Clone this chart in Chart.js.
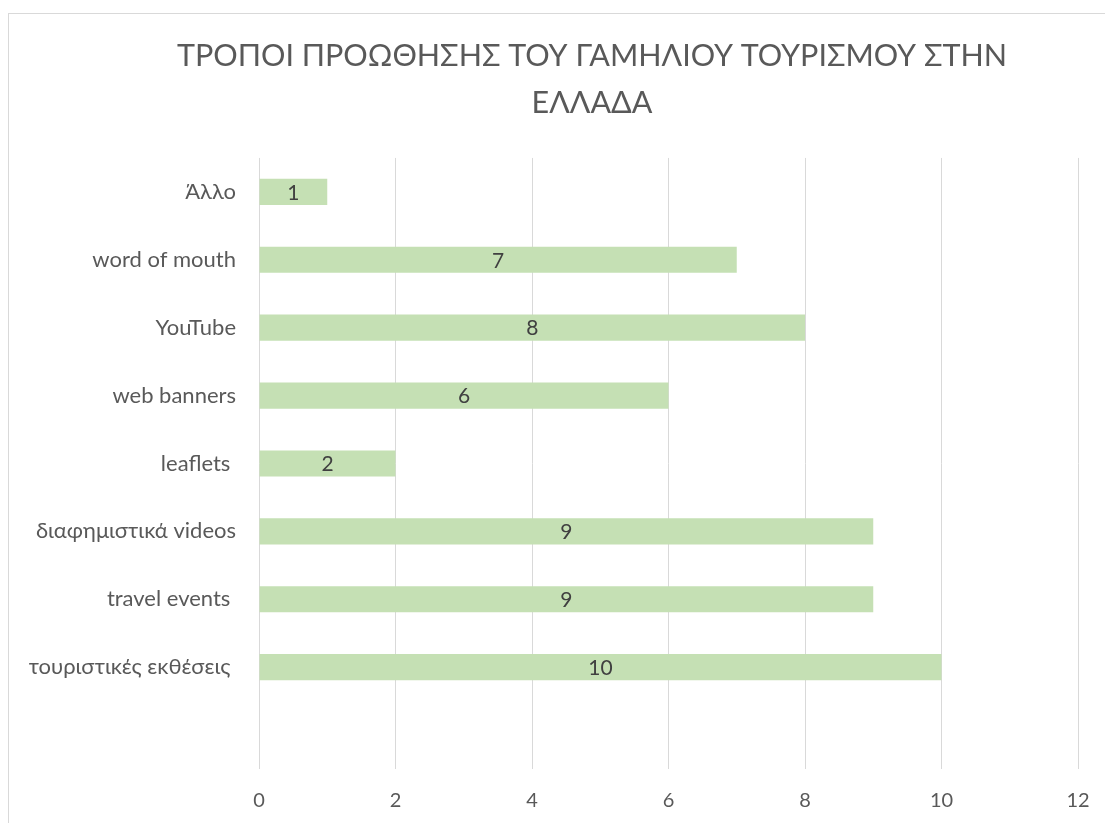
<!DOCTYPE html>
<html>
<head>
<meta charset="utf-8">
<title>Τρόποι προώθησης του γαμήλιου τουρισμού</title>
<script src="https://cdn.jsdelivr.net/npm/chart.js@4.4.1/dist/chart.umd.min.js"></script>
<style>
  html, body { margin: 0; padding: 0; background: #fff; overflow: hidden; }
  #frame {
    position: absolute;
    left: 8px;
    top: 13px;
    width: 1166px;
    height: 830px;
    border: 1px solid #d9d9d9;
    overflow: hidden;
  }
  #chart { display: block; }
</style>
</head>
<body>
<div id="frame">
  <canvas id="chart" width="1166" height="830"></canvas>
</div>
<script>
// chart data (top to bottom, last row is empty in the original sheet)
const categories = [
  "Άλλο",
  "word of mouth",
  "YouTube",
  "web banners",
  "leaflets ",
  "διαφημιστικά videos",
  "travel events ",
  "τουριστικές εκθέσεις ",
  ""
];
const counts = [1, 7, 8, 6, 2, 9, 9, 10, null];
const titleLines = ["ΤΡΟΠΟΙ ΠΡΟΩΘΗΣΗΣ ΤΟΥ ΓΑΜΗΛΙΟΥ ΤΟΥΡΙΣΜΟΥ ΣΤΗΝ", "ΕΛΛΑΔΑ"];
const xMin = 0;
const xMax = 12;
const xStep = 2;

// writes the value in the middle of each bar
const barValues = {
    id: "barValues",
    afterDatasetsDraw(chart) {
        const ctx = chart.ctx;
        const meta = chart.getDatasetMeta(0);
        ctx.save();
        ctx.font = "400 21px Lato";
        ctx.fillStyle = "#404040";
        ctx.textAlign = "center";
        ctx.textBaseline = "middle";
        meta.data.forEach(function(bar, i) {
            const v = counts[i];
            if (v === null || v === undefined) return;
            const p = bar.getProps(["x", "y", "base"], true);
            ctx.fillText(String(v), (p.x + p.base) / 2, p.y + 1);
        });
        ctx.restore();
    }
};

const ctx = document.getElementById("chart").getContext("2d");
new Chart(ctx, {
    type: "bar",
    data: {
        labels: categories,
        datasets: [{
            data: counts,
            backgroundColor: "#C5E0B4",
            borderWidth: 0,
            categoryPercentage: 1,
            barPercentage: 0.385
        }]
    },
    options: {
        indexAxis: "y",
        responsive: false,
        animation: false,
        devicePixelRatio: 1,
        layout: { padding: 0 },
        plugins: {
            legend: { display: false },
            tooltip: { enabled: false },
            title: {
                display: true,
                text: titleLines,
                color: "#595959",
                font: { family: "Lato", weight: "400", size: 30.5, lineHeight: 1.54 },
                padding: { top: 19, bottom: 31 }
            }
        },
        scales: {
            x: {
                type: "linear",
                min: xMin,
                max: xMax,
                grid: { color: "#d9d9d9", lineWidth: 1, drawTicks: false },
                border: { display: false },
                ticks: {
                    stepSize: xStep,
                    padding: 20,
                    color: "#595959",
                    font: { family: "Lato", size: 20 }
                },
                afterFit(scale) { scale.height = 75; }
            },
            y: {
                grid: { display: false, drawTicks: false },
                border: { display: false },
                ticks: {
                    padding: 23,
                    color: "#595959",
                    font: { family: "Lato", size: 22 }
                },
                afterFit(scale) { scale.width = 250; }
            },
            // empty space on the right so the title stays centred on the whole chart box
            spacer: {
                type: "category",
                position: "right",
                grid: { display: false },
                border: { display: false },
                ticks: { display: false },
                afterFit(scale) { scale.width = 97; }
            }
        }
    },
    plugins: [barValues]
});
</script>
</body>
</html>
